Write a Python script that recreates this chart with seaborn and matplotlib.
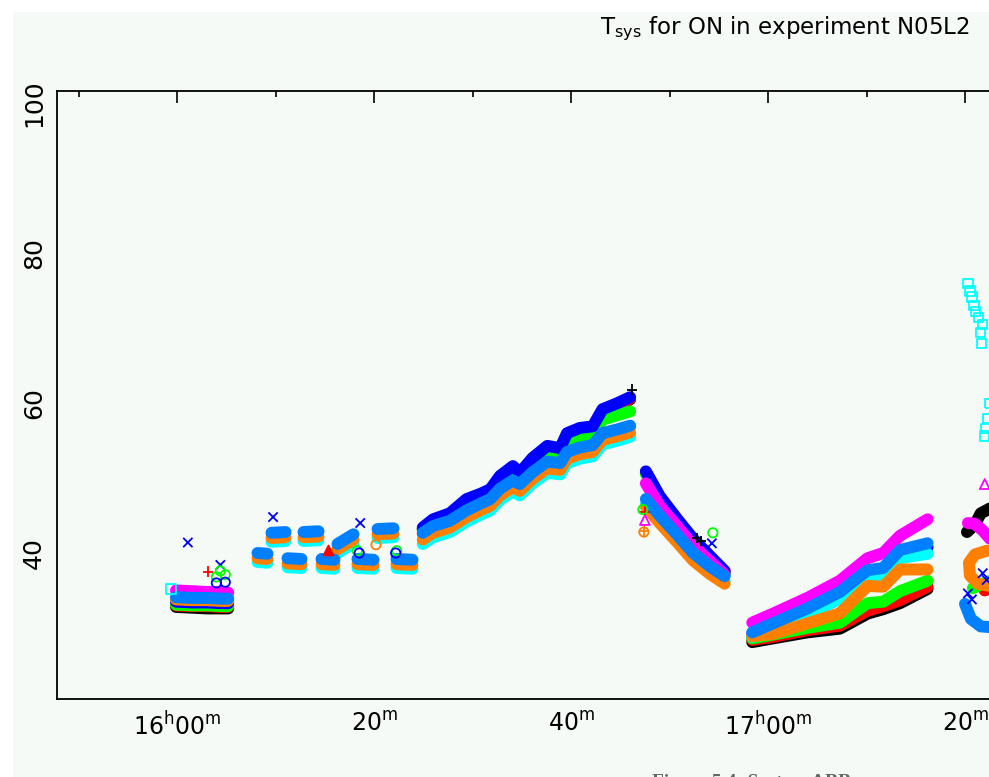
import matplotlib
matplotlib.use("Agg")
import matplotlib.pyplot as plt
from matplotlib.patches import Rectangle
from matplotlib.ticker import FixedLocator
import pandas as pd
import seaborn as sns

# ---------------------------------------------------------------- channels
channels = ["black", "red", "green", "blue", "cyan", "magenta", "orange", "lightblue"]
channel_colours = ["#000000", "#ff0000", "#00ff00", "#0000ff",
                   "#00ffff", "#ff00ff", "#ff8000", "#0080ff"]

# ---------------------------------------------------------------- axes text
title_text = "T$_{sys}$ for ON in experiment N05L2"
ylabel_text = "T$_{sys}$"
caption_text = "Figure 5.4: System ABB"
# time in minutes after 16h00m
xtick_minutes = [0, 20, 40, 60, 80]
xtick_labels = ["16$^h$00$^m$", "20$^m$", "40$^m$", "17$^h$00$^m$", "20$^m$"]
xminor_minutes = [-10, 10, 30, 50, 70, 90]
ytick_values = [40, 60, 80, 100]
ytick_labels = ["40", "60", "80", "100"]
yminor_values = [30, 50, 70, 90]

# ---------------------------------------------------------------- scan at 16h00m
t_a = [-0.1, 1.5, 3.0, 4.5, 5.2]
a_black = [32.8, 32.7, 32.6, 32.6, 32.6]
a_red = [33.0, 32.9, 32.9, 32.8, 32.8]
a_green = [33.1, 33.0, 33.0, 32.9, 32.9]
a_blue = [33.5, 33.4, 33.4, 33.3, 33.3]
a_cyan = [33.9, 33.9, 33.8, 33.8, 33.8]
a_magenta = [35.0, 34.9, 34.8, 34.8, 34.7]
a_orange = [33.8, 33.7, 33.7, 33.6, 33.6]
a_lightblue = [34.1, 34.0, 34.0, 33.9, 33.9]

# ---------------------------------------------------------------- short scans 16h08m-16h24m
b_t0 = [8.17, 9.59, 11.22, 12.84, 14.67, 16.29, 18.32, 20.36, 22.28]
b_t1 = [9.19, 11.02, 12.64, 14.37, 15.99, 17.92, 19.95, 21.98, 23.91]
b_lightblue0 = [40.0, 42.7, 39.3, 42.8, 39.2, 41.2, 39.2, 43.2, 39.2]
b_lightblue1 = [39.9, 42.8, 39.2, 42.9, 39.1, 42.5, 39.1, 43.3, 39.1]
b_orange0 = [39.3, 42.0, 38.6, 42.1, 38.5, 40.5, 38.5, 42.5, 38.5]
b_orange1 = [39.2, 42.1, 38.5, 42.2, 38.4, 41.8, 38.4, 42.6, 38.4]
b_cyan0 = [38.8, 41.5, 38.1, 41.6, 38.0, 40.0, 38.0, 42.0, 38.0]
b_cyan1 = [38.7, 41.6, 38.0, 41.7, 37.9, 41.3, 37.9, 42.1, 37.9]

# ---------------------------------------------------------------- long scan 16h25m-16h46m
t_c = [24.95, 26.0, 27.7, 29.4, 30.8, 31.8, 32.8, 34.1, 34.8, 36.1, 37.6,
       38.9, 39.6, 40.9, 42.2, 43.2, 44.7, 46.0]
c_black = [43.1, 44.2, 45.0, 46.9, 47.6, 48.2, 50.0, 51.3, 50.4, 52.4, 54.0,
           53.7, 55.7, 56.4, 56.6, 58.9, 59.7, 60.5]
c_red = [43.2, 44.3, 45.1, 47.0, 47.7, 48.3, 50.1, 51.4, 50.5, 52.5, 54.1,
         53.8, 55.8, 56.5, 56.7, 59.0, 59.8, 60.6]
c_green = [43.1, 44.2, 45.0, 46.8, 47.5, 48.1, 49.8, 51.0, 50.3, 52.2, 53.6,
           53.4, 55.0, 55.6, 55.9, 57.8, 58.4, 58.9]
c_blue = [43.4, 44.5, 45.3, 47.2, 47.9, 48.5, 50.3, 51.6, 50.7, 52.7, 54.3,
          54.0, 56.0, 56.7, 56.9, 59.2, 60.0, 60.8]
c_cyan = [41.2, 42.1, 42.8, 44.2, 45.1, 45.7, 47.1, 48.2, 47.7, 49.3, 50.7,
          50.5, 52.0, 52.6, 52.9, 54.5, 55.0, 55.5]
c_magenta = [42.6, 43.5, 44.2, 45.6, 46.5, 47.1, 48.5, 49.6, 49.1, 50.7, 52.1,
             51.9, 53.4, 54.0, 54.3, 55.9, 56.4, 56.9]
c_orange = [41.8, 42.7, 43.4, 44.8, 45.7, 46.3, 47.7, 48.8, 48.3, 49.9, 51.3,
            51.1, 52.6, 53.2, 53.5, 55.1, 55.6, 56.1]
c_lightblue = [42.7, 43.6, 44.3, 45.7, 46.6, 47.2, 48.6, 49.7, 49.2, 50.8, 52.2,
               52.0, 53.5, 54.1, 54.4, 56.0, 56.5, 57.0]

# ---------------------------------------------------------------- scan 16h47m-16h56m
t_d = [47.6, 49.0, 50.8, 52.4, 54.1, 55.6]
d_black = [50.7, 47.4, 44.3, 41.7, 39.4, 37.4]
d_red = [50.8, 47.5, 44.4, 41.8, 39.5, 37.5]
d_green = [50.6, 47.3, 44.2, 41.6, 39.3, 37.3]
d_blue = [50.9, 47.6, 44.5, 41.9, 39.6, 37.6]
d_cyan = [46.5, 44.3, 41.7, 39.3, 37.5, 36.2]
d_magenta = [49.3, 46.3, 43.5, 41.0, 38.9, 37.1]
d_orange = [46.2, 44.0, 41.4, 39.0, 37.2, 35.9]
d_lightblue = [47.2, 45.0, 42.4, 40.0, 38.2, 36.9]

# ---------------------------------------------------------------- scan 16h58m-17h17m
t_e = [58.4, 60.5, 64.0, 67.3, 70.1, 71.7, 73.4, 76.2]
e_black = [28.1, 28.6, 29.4, 29.9, 31.9, 32.5, 33.3, 35.2]
e_red = [28.4, 28.8, 29.7, 30.3, 32.3, 32.9, 33.7, 35.5]
e_green = [28.6, 29.1, 30.0, 30.7, 33.3, 33.5, 34.9, 36.3]
e_blue = [29.2, 30.4, 32.3, 34.4, 37.2, 37.5, 39.8, 40.8]
e_cyan = [28.8, 29.9, 31.8, 33.9, 36.8, 37.1, 39.3, 39.9]
e_magenta = [30.7, 31.9, 34.0, 36.3, 39.3, 40.0, 42.3, 44.5]
e_orange = [28.9, 29.2, 30.6, 31.95, 35.6, 35.5, 37.8, 37.8]
e_lightblue = [29.4, 30.6, 32.6, 34.8, 37.7, 38.0, 40.4, 41.3]

# ---------------------------------------------------------------- scan from 17h20m
f_black_t = [80.2, 81.0, 81.6, 82.6]
f_black = [42.8, 43.8, 45.3, 46.0]
f_red_t = [82.0, 82.8]
f_red = [35.0, 35.4]
f_green_t = [80.8, 81.6, 82.6]
f_green = [35.3, 35.8, 36.3]
f_magenta_t = [80.3, 81.0, 81.8, 82.6]
f_magenta = [44.0, 43.9, 43.0, 41.8]
f_orange_t = [82.2, 81.0, 80.4, 80.5, 81.3, 82.5]
f_orange = [40.3, 39.8, 38.7, 37.0, 35.9, 35.6]
f_lightblue_t = [80.0, 80.6, 81.6, 83.5]
f_lightblue = [33.2, 31.2, 30.2, 30.0]

# ---------------------------------------------------------------- isolated points
cross_t = [1.1, 4.4, 9.75, 18.6, 54.3, 80.3, 80.7, 81.8, 82.2]
cross_v = [41.4, 38.4, 44.8, 44.0, 41.3, 34.6, 33.8, 37.3, 36.4]
cross_ch = ["blue"] * 9
plus_t = [3.15, 47.5, 52.8, 53.2, 46.2, 47.4]
plus_v = [37.5, 45.5, 42.0, 41.6, 61.8, 42.9]
plus_ch = ["red", "red", "black", "black", "black", "orange"]
circle_t = [4.4, 4.9, 4.0, 47.3, 54.4, 18.3, 22.3, 4.0, 4.9, 18.5, 22.2, 47.4, 20.2]
circle_v = [37.6, 37.1, 36.8, 45.8, 42.7, 40.3, 40.3, 36.0, 36.1, 40.0, 40.0, 42.8, 41.1]
circle_ch = ["green"] * 7 + ["blue"] * 4 + ["orange"] * 2
triangle_t = [47.5, 82.0]
triangle_v = [44.4, 49.2]
triangle_ch = ["magenta", "magenta"]
filled_tri_t = [15.3]
filled_tri_v = [40.4]
filled_tri_ch = ["red"]
square_t = [-0.6, 80.3, 80.5, 80.7, 80.9, 81.1, 81.4, 81.8, 81.6, 81.7, 82.5, 82.3, 82.1, 82.0]
square_v = [35.2, 76.0, 75.0, 74.2, 73.0, 72.2, 71.4, 70.5, 69.4, 68.0, 60.0, 58.0, 56.6, 55.6]
square_ch = ["cyan"] * 14

# ---------------------------------------------------------------- tidy tables
rows = []


def add_line(seg, ch, ts, vs):
    for t, v in zip(ts, vs):
        rows.append({"seg": seg, "ch": ch, "t": t, "v": v})


scan_a = dict(zip(channels, [a_black, a_red, a_green, a_blue, a_cyan, a_magenta, a_orange, a_lightblue]))
scan_c = dict(zip(channels, [c_black, c_red, c_green, c_blue, c_cyan, c_magenta, c_orange, c_lightblue]))
scan_d = dict(zip(channels, [d_black, d_red, d_green, d_blue, d_cyan, d_magenta, d_orange, d_lightblue]))
scan_e = dict(zip(channels, [e_black, e_red, e_green, e_blue, e_cyan, e_magenta, e_orange, e_lightblue]))
for seg, times, scan in [("a", t_a, scan_a), ("c", t_c, scan_c), ("d", t_d, scan_d), ("e", t_e, scan_e)]:
    for ch, vals in scan.items():
        add_line(seg, ch, times, vals)

for i in range(len(b_t0)):
    tt = [b_t0[i], b_t1[i]]
    add_line(f"b{i}", "cyan", tt, [b_cyan0[i], b_cyan1[i]])
    add_line(f"b{i}", "orange", tt, [b_orange0[i], b_orange1[i]])
    add_line(f"b{i}", "lightblue", tt, [b_lightblue0[i], b_lightblue1[i]])

for ch, tt, vv in [("black", f_black_t, f_black), ("red", f_red_t, f_red),
                   ("green", f_green_t, f_green), ("magenta", f_magenta_t, f_magenta),
                   ("orange", f_orange_t, f_orange), ("lightblue", f_lightblue_t, f_lightblue)]:
    add_line("f", ch, tt, vv)

bands = pd.DataFrame(rows)

points = pd.concat([
    pd.DataFrame({"t": cross_t, "v": cross_v, "ch": cross_ch, "kind": "x"}),
    pd.DataFrame({"t": plus_t, "v": plus_v, "ch": plus_ch, "kind": "+"}),
    pd.DataFrame({"t": circle_t, "v": circle_v, "ch": circle_ch, "kind": "o"}),
    pd.DataFrame({"t": triangle_t, "v": triangle_v, "ch": triangle_ch, "kind": "^"}),
    pd.DataFrame({"t": filled_tri_t, "v": filled_tri_v, "ch": filled_tri_ch, "kind": "^f"}),
    pd.DataFrame({"t": square_t, "v": square_v, "ch": square_ch, "kind": "s"}),
], ignore_index=True)

palette = dict(zip(channels, channel_colours))

# ---------------------------------------------------------------- figure
sns.set_theme(style="white")
plt.rcParams["font.family"] = ["DejaVu Sans"]
plt.rcParams["mathtext.default"] = "regular"
plt.rcParams["text.color"] = "black"

W, H = 989, 777
PANEL = "#f5faf7"
fig = plt.figure(figsize=(W / 100, H / 100), dpi=100, facecolor="white")
fig.add_artist(Rectangle((13 / W, 0), 1, (H - 12) / H, transform=fig.transFigure,
                         facecolor=PANEL, edgecolor="none", zorder=-1))

ax = fig.add_axes([57 / W, (H - 699) / H, (1100 - 57) / W, (699 - 91) / H])
ax.set_facecolor("none")

sns.lineplot(data=bands, x="t", y="v", hue="ch", hue_order=channels, palette=palette,
             units="seg", estimator=None, sort=False, legend=False, ax=ax,
             lw=8.6, solid_capstyle="round", solid_joinstyle="round")

marker_spec = {"x": ("x", 45, False), "+": ("+", 60, False), "o": ("o", 45, True),
               "^": ("^", 50, True), "^f": ("^", 50, False), "s": ("s", 45, True)}
for kind, (mk, size, hollow) in marker_spec.items():
    sub = points[points["kind"] == kind]
    sns.scatterplot(data=sub, x="t", y="v", hue="ch", palette=palette, marker=mk,
                    s=size, linewidth=1.3, legend=False, ax=ax, zorder=3)
    coll = ax.collections[-1]
    if hollow:
        fc = coll.get_facecolors()
        coll.set_edgecolors(fc)
        coll.set_facecolors("none")
    elif kind == "^f":
        coll.set_edgecolors(coll.get_facecolors())

ax.set_xlim((57 - 177) / 9.85, (1100 - 177) / 9.85)
ax.set_ylim(40 - (699 - 553) / 7.49, 40 + (553 - 91) / 7.49)

ax.xaxis.set_major_locator(FixedLocator(xtick_minutes))
ax.xaxis.set_minor_locator(FixedLocator(xminor_minutes))
ax.yaxis.set_major_locator(FixedLocator(ytick_values))
ax.yaxis.set_minor_locator(FixedLocator(yminor_values))
ax.set_xticklabels(xtick_labels, fontsize=17, color="black")
ax.set_yticklabels(ytick_labels, fontsize=18, rotation=90, va="center", color="black")
ax.tick_params(which="both", direction="in", top=True, right=True, color="black",
               width=1.2, labelcolor="black")
ax.tick_params(which="major", length=8.6)
ax.tick_params(which="minor", length=4.3)
ax.tick_params(axis="x", pad=9)
ax.tick_params(axis="y", pad=8)
ax.set_xlabel("")
ax.set_ylabel("")
for sp in ax.spines.values():
    sp.set_color("black")
    sp.set_linewidth(1.3)

fig.text(970 / W, 1 - 34 / H, title_text, ha="right", va="baseline", fontsize=16.5, color="black")
fig.text(17 / W, 1 - 415 / H, ylabel_text, rotation=90, ha="right", va="center", fontsize=16, color="black")
fig.add_artist(Rectangle((0, 0), 13 / W, 1, transform=fig.transFigure,
                         facecolor="white", edgecolor="none", zorder=5))
fig.text(652 / W, 3 / H, caption_text, ha="left", va="top", fontsize=14,
         family=["Liberation Serif", "DejaVu Serif"], weight="bold", color="#666666")

fig.savefig("out.png", dpi=100, facecolor="white")
